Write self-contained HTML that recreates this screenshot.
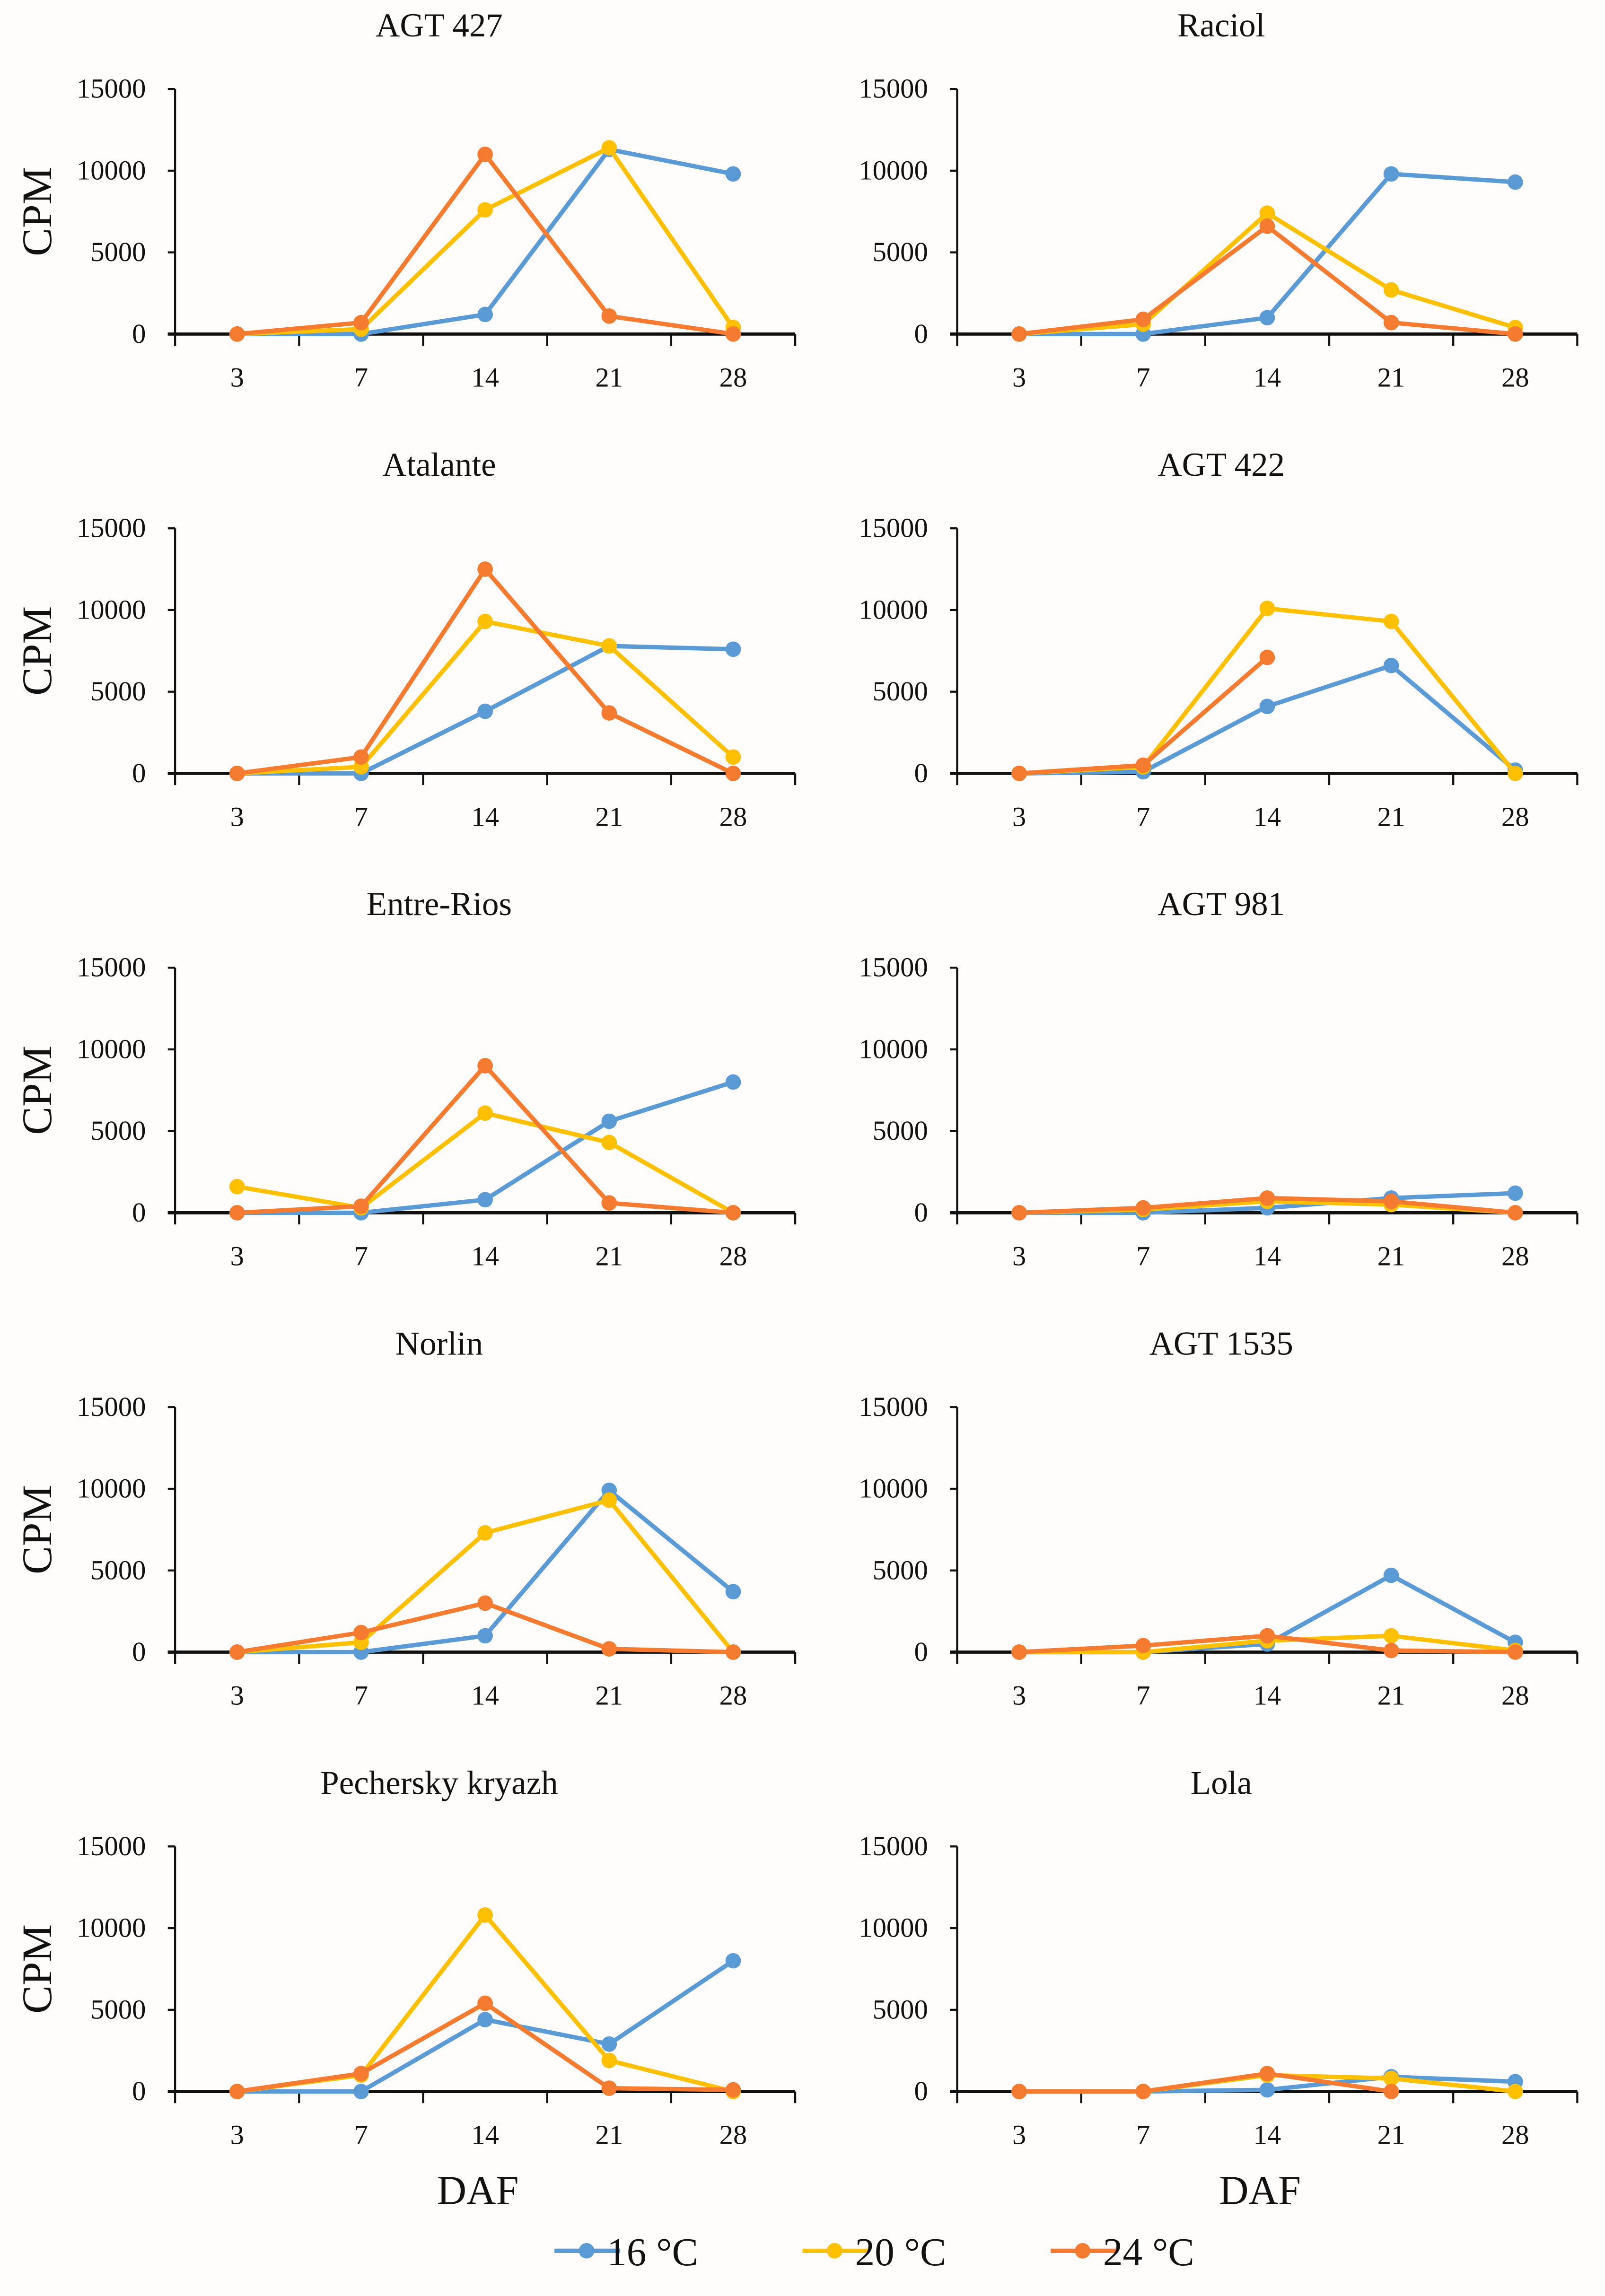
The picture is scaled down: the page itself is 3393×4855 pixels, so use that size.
<!DOCTYPE html>
<html><head><meta charset="utf-8">
<style>
html,body{margin:0;padding:0;background:#fefdfc;}
svg{display:block;}
text{font-family:"Liberation Serif",serif;fill:#111;}
</style></head>
<body>
<svg id="fig" width="3393" height="4855" viewBox="0 0 1100 1574" preserveAspectRatio="none" xmlns="http://www.w3.org/2000/svg">
<rect x="0" y="0" width="1100" height="1574" fill="#fefdfc"/>
</svg>
<script>
const categories = ["3","7","14","21","28"];
const yTicks = [0,5000,10000,15000];
const panelTitles = ["AGT 427","Raciol","Atalante","AGT 422","Entre-Rios","AGT 981","Norlin","AGT 1535","Pechersky kryazh","Lola"];
const seriesNames = ["16 °C","20 °C","24 °C"];
const s16 = [
 [0,0,1200,11300,9800],[0,0,1000,9800,9300],[0,0,3800,7800,7600],[0,100,4100,6600,200],
 [0,0,800,5600,8000],[0,0,300,900,1200],[0,0,1000,9900,3700],[0,0,500,4700,600],
 [0,0,4400,2900,8000],[0,0,100,900,600]];
const s20 = [
 [0,300,7600,11400,400],[0,600,7400,2700,400],[0,400,9300,7800,1000],[0,400,10100,9300,0],
 [1600,300,6100,4300,0],[0,200,700,500,0],[0,600,7300,9300,0],[0,0,700,1000,100],
 [0,1000,10800,1900,0],[0,0,1000,800,0]];
const s24 = [
 [0,700,11000,1100,0],[0,900,6600,700,0],[0,1000,12500,3700,0],[0,500,7100,null,null],
 [0,400,9000,600,0],[0,300,900,700,0],[0,1200,3000,200,0],[0,400,1000,100,0],
 [0,1100,5400,200,100],[0,0,1100,0,null]];
const colors = ["#5b9bd5","#ffc000","#f47b30"];

const NS="http://www.w3.org/2000/svg";
const svg=document.getElementById("fig");
function mk(tag,attrs,parent){const e=document.createElementNS(NS,tag);for(const k in attrs)e.setAttribute(k,attrs[k]);(parent||svg).appendChild(e);return e;}

const yMax=15000;
panelTitles.forEach((title,p)=>{
  const col=p%2,row=Math.floor(p/2);
  const ox=120+col*536, top=61+row*301.2, y0=229+row*301.2, w=425;
  const xs=i=>ox+w/10+i*w/5;
  const ys=v=>y0-(v/yMax)*(y0-top);
  const g=mk("g",{});
  
  
  const t=mk("text",{x:ox+181,y:top-36,"text-anchor":"middle","font-size":"23"},g);t.textContent=title;
  
  
  if(col===0){const c=mk("text",{x:0,y:0,"text-anchor":"middle","font-size":"29",transform:`translate(35,${(top+y0)/2}) rotate(-90)`},g);c.textContent="CPM";
    
    }
  const ya=mk("line",{x1:ox,y1:top,x2:ox,y2:y0+8,stroke:"#111","stroke-width":"1.4"},g);
  
  
  yTicks.forEach(v=>{
    mk("line",{x1:ox-5,y1:ys(v),x2:ox,y2:ys(v),stroke:"#111","stroke-width":"1.4"},g);
    const l=mk("text",{x:ox-20,y:ys(v)+6,"text-anchor":"end","font-size":"19"},g);l.textContent=v;
    
    
  });
  const xa=mk("line",{x1:ox-5,y1:y0,x2:ox+w,y2:y0,stroke:"#111","stroke-width":"2.2"},g);
  
  
  for(let i=1;i<=5;i++)mk("line",{x1:ox+i*w/5,y1:y0,x2:ox+i*w/5,y2:y0+8,stroke:"#111","stroke-width":"1.4"},g);
  categories.forEach((c,i)=>{const l=mk("text",{x:xs(i),y:y0+36,"text-anchor":"middle","font-size":"19"},g);l.textContent=c;
    
    });
  if(row===4){const d=mk("text",{x:ox+w/2-5,y:1511,"text-anchor":"middle","font-size":"28"},g);d.textContent="DAF";
    
    }
  [s16[p],s20[p],s24[p]].forEach((vals,si)=>{
    let d="",started=false;
    vals.forEach((v,i)=>{if(v===null){started=false;return;}d+=(started?"L":"M")+xs(i)+","+ys(v)+" ";started=true;});
    const path=mk("path",{d:d,fill:"none",stroke:colors[si],"stroke-width":"3","stroke-linejoin":"round"},g);
    
    
    vals.forEach((v,i)=>{if(v===null)return;
      const m=mk("circle",{cx:xs(i),cy:ys(v),r:5.3,fill:colors[si]},g);
      
      });
  });
});
const legX=[380,550,720];
seriesNames.forEach((n,i)=>{
  const g=mk("g",{});
  
  
  mk("line",{x1:legX[i],y1:1543,x2:legX[i]+45,y2:1543,stroke:colors[i],"stroke-width":"3"},g);
  mk("circle",{cx:legX[i]+22,cy:1543,r:5.3,fill:colors[i]},g);
  const t=mk("text",{x:legX[i]+36,y:1553,"font-size":"27"},g);t.textContent=n;
});
</script>
</body></html>
